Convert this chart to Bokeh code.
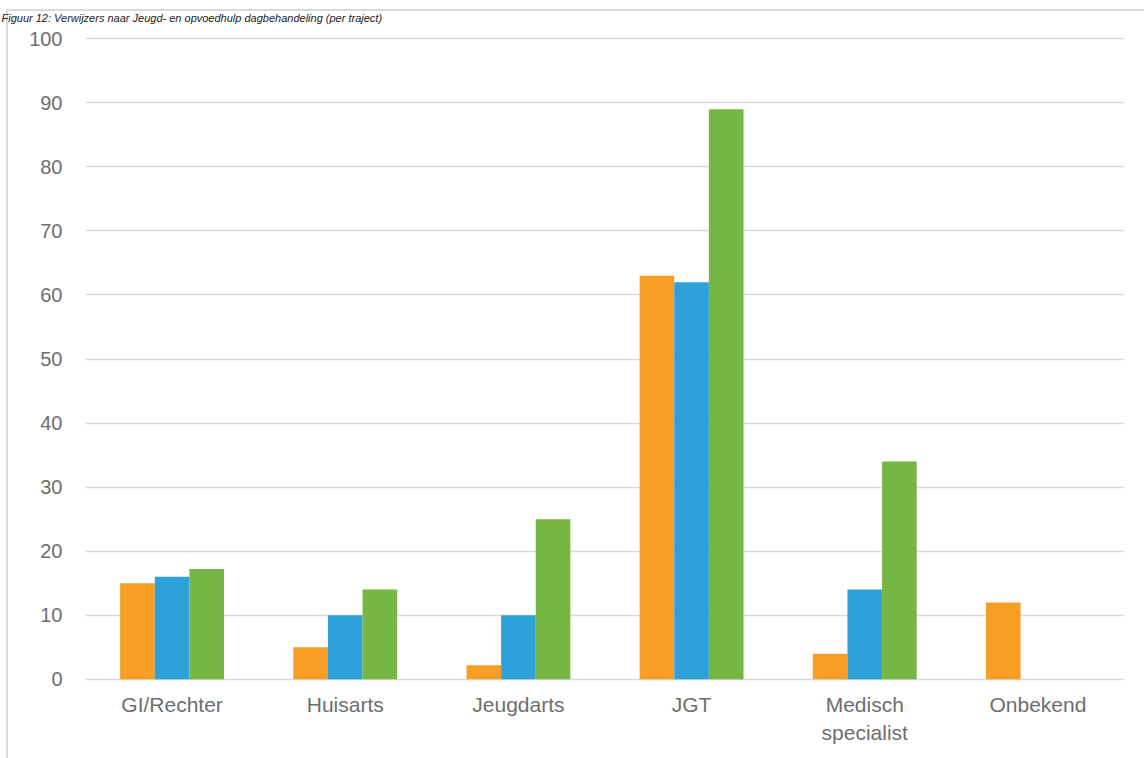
from bokeh.plotting import figure
from bokeh.models import FactorRange, Range1d, ColumnDataSource, FixedTicker
from bokeh.transform import dodge
from bokeh.embed import file_html
from bokeh.resources import INLINE

categories = ["GI/Rechter", "Huisarts", "Jeugdarts", "JGT", "Medisch\nspecialist", "Onbekend"]
serie_oranje = [15, 5, 2.2, 63, 4, 12]
serie_blauw = [16, 10, 10, 62, 14, 0]
serie_groen = [17.2, 14, 25, 89, 34, 0]
y_ticks = [0, 10, 20, 30, 40, 50, 60, 70, 80, 90, 100]
title_text = "Figuur 12: Verwijzers naar Jeugd- en opvoedhulp dagbehandeling (per traject)"

source = ColumnDataSource(dict(cat=categories, a=serie_oranje, b=serie_blauw, c=serie_groen))

frame_css = {
    "background-color": "white",
    "background-image": "linear-gradient(#dadada, #dadada), linear-gradient(#dadada, #dadada)",
    "background-size": "2px 800px, 1200px 2px",
    "background-position": "6px 9px, 6px 9px",
    "background-repeat": "no-repeat",
}

p = figure(x_range=FactorRange(*categories, range_padding=0.0), y_range=Range1d(-0.5, 100.5),
           width=1144, height=758, output_backend="svg", toolbar_location=None,
           min_border_left=85, min_border_right=20, min_border_top=35, min_border_bottom=76,
           title=title_text, styles=frame_css)
p.x_range.factor_padding = 0

FONT = "Liberation Sans"
GRAY = "#6e6e6e"
colors = ["#F79E27", "#2FA1DA", "#76B743"]
for col, off, color in zip(["a", "b", "c"], [-0.2, 0.0, 0.2], colors):
    p.vbar(x=dodge("cat", off, range=p.x_range), top=col, width=0.2, bottom=0,
           source=source, fill_color=color, line_color=None)

p.outline_line_color = None
p.background_fill_color = "white"
p.border_fill_color = None

p.title.text_font = FONT
p.title.text_font_size = "11px"
p.title.text_font_style = "italic"
p.title.text_color = "#222222"
p.title.align = "left"
p.title.vertical_align = "top"
p.title.offset = -84
p.title.standoff = 20

p.xgrid.grid_line_color = None
p.ygrid.grid_line_color = "#d9d9d9"
p.ygrid.grid_line_width = 1.5
p.yaxis.ticker = FixedTicker(ticks=y_ticks)

for ax in (p.xaxis[0], p.yaxis[0]):
    ax.axis_line_color = None
    ax.major_tick_line_color = None
    ax.minor_tick_line_color = None
    ax.major_tick_out = 0
    ax.major_tick_in = 0
    ax.minor_tick_out = 0
    ax.major_label_text_font = FONT
    ax.major_label_text_color = GRAY
p.yaxis.major_label_text_font_size = "20px"
p.xaxis.major_label_text_font_size = "21px"
p.xaxis.major_label_text_line_height = 1.25
p.yaxis.major_label_standoff = 23
p.xaxis.major_label_standoff = 10

open("out.html", "w").write(file_html(p, INLINE))
